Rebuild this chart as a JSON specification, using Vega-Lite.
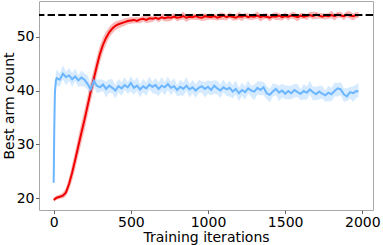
{
"$schema": "https://vega.github.io/schema/vega-lite/v6.json",
"width": 334, "height": 209,
"autosize": {"type": "none"},
"padding": {"left": 39, "top": 1, "right": 10, "bottom": 35},
"config": {
 "view": {"stroke": "#a8a8a8", "strokeWidth": 1},
 "font": "DejaVu Sans",
 "axis": {"grid": false, "domain": false, "tickColor": "#666666", "tickSize": 3.5, "tickWidth": 1, "labelFontSize": 14, "labelColor": "#000000", "labelPadding": 1.5, "titleFontSize": 14, "titleFontWeight": "normal", "titleColor": "#000000", "labelFlush": false}
},
"data": {"values": [
{"x":0,"s":"r","m":19.7,"lo":19.4,"hi":20.1},
{"x":20,"s":"r","m":20.1,"lo":19.7,"hi":20.5},
{"x":40,"s":"r","m":20.3,"lo":19.9,"hi":20.7},
{"x":60,"s":"r","m":20.5,"lo":20.0,"hi":21.1},
{"x":80,"s":"r","m":21.1,"lo":20.4,"hi":21.9},
{"x":100,"s":"r","m":22.7,"lo":21.6,"hi":23.9},
{"x":120,"s":"r","m":24.8,"lo":23.3,"hi":26.3},
{"x":140,"s":"r","m":27.2,"lo":25.5,"hi":28.9},
{"x":160,"s":"r","m":29.7,"lo":27.9,"hi":31.5},
{"x":180,"s":"r","m":32.2,"lo":30.3,"hi":34.1},
{"x":200,"s":"r","m":34.6,"lo":32.6,"hi":36.5},
{"x":220,"s":"r","m":37.2,"lo":35.3,"hi":39.1},
{"x":240,"s":"r","m":39.8,"lo":37.9,"hi":41.6},
{"x":260,"s":"r","m":42.2,"lo":40.4,"hi":44.0},
{"x":280,"s":"r","m":44.6,"lo":42.9,"hi":46.3},
{"x":300,"s":"r","m":46.8,"lo":45.2,"hi":48.4},
{"x":320,"s":"r","m":48.5,"lo":47.1,"hi":49.9},
{"x":340,"s":"r","m":49.8,"lo":48.6,"hi":51.0},
{"x":360,"s":"r","m":50.8,"lo":49.8,"hi":51.8},
{"x":380,"s":"r","m":51.5,"lo":50.6,"hi":52.4},
{"x":400,"s":"r","m":52.0,"lo":51.2,"hi":52.8},
{"x":420,"s":"r","m":52.3,"lo":51.5,"hi":53.0},
{"x":440,"s":"r","m":52.5,"lo":51.8,"hi":53.2},
{"x":460,"s":"r","m":52.7,"lo":52.0,"hi":53.4},
{"x":480,"s":"r","m":52.9,"lo":52.3,"hi":53.5},
{"x":500,"s":"r","m":53.0,"lo":52.4,"hi":53.6},
{"x":520,"s":"r","m":53.1,"lo":52.5,"hi":53.6},
{"x":540,"s":"r","m":52.9,"lo":52.5,"hi":53.6},
{"x":560,"s":"r","m":53.2,"lo":52.5,"hi":53.6},
{"x":580,"s":"r","m":53.3,"lo":52.8,"hi":53.9},
{"x":600,"s":"r","m":53.1,"lo":52.5,"hi":53.9},
{"x":620,"s":"r","m":53.4,"lo":52.6,"hi":53.9},
{"x":640,"s":"r","m":53.3,"lo":52.7,"hi":53.8},
{"x":660,"s":"r","m":53.5,"lo":53.1,"hi":54.2},
{"x":680,"s":"r","m":53.3,"lo":52.6,"hi":53.7},
{"x":700,"s":"r","m":53.6,"lo":53.1,"hi":54.2},
{"x":720,"s":"r","m":53.4,"lo":52.8,"hi":54.2},
{"x":740,"s":"r","m":53.6,"lo":52.8,"hi":54.1},
{"x":760,"s":"r","m":53.5,"lo":52.9,"hi":54.0},
{"x":780,"s":"r","m":53.7,"lo":53.3,"hi":54.4},
{"x":800,"s":"r","m":53.5,"lo":52.8,"hi":53.9},
{"x":820,"s":"r","m":53.6,"lo":53.1,"hi":54.2},
{"x":840,"s":"r","m":53.8,"lo":53.2,"hi":54.6},
{"x":860,"s":"r","m":53.5,"lo":52.7,"hi":54.0},
{"x":880,"s":"r","m":53.7,"lo":53.1,"hi":54.2},
{"x":900,"s":"r","m":53.6,"lo":53.2,"hi":54.3},
{"x":920,"s":"r","m":53.8,"lo":53.1,"hi":54.2},
{"x":940,"s":"r","m":53.6,"lo":53.1,"hi":54.2},
{"x":960,"s":"r","m":53.5,"lo":52.9,"hi":54.3},
{"x":980,"s":"r","m":53.8,"lo":53.0,"hi":54.3},
{"x":1000,"s":"r","m":53.7,"lo":53.1,"hi":54.2},
{"x":1020,"s":"r","m":53.6,"lo":53.2,"hi":54.3},
{"x":1040,"s":"r","m":53.8,"lo":53.1,"hi":54.2},
{"x":1060,"s":"r","m":53.5,"lo":53.0,"hi":54.1},
{"x":1080,"s":"r","m":53.7,"lo":53.1,"hi":54.5},
{"x":1100,"s":"r","m":53.9,"lo":53.1,"hi":54.4},
{"x":1120,"s":"r","m":53.6,"lo":53.0,"hi":54.1},
{"x":1140,"s":"r","m":53.8,"lo":53.4,"hi":54.5},
{"x":1160,"s":"r","m":53.7,"lo":53.0,"hi":54.1},
{"x":1180,"s":"r","m":53.5,"lo":53.0,"hi":54.1},
{"x":1200,"s":"r","m":53.8,"lo":53.2,"hi":54.6},
{"x":1220,"s":"r","m":53.7,"lo":52.9,"hi":54.2},
{"x":1240,"s":"r","m":53.9,"lo":53.3,"hi":54.4},
{"x":1260,"s":"r","m":53.6,"lo":53.2,"hi":54.3},
{"x":1280,"s":"r","m":53.8,"lo":53.1,"hi":54.2},
{"x":1300,"s":"r","m":53.7,"lo":53.2,"hi":54.3},
{"x":1320,"s":"r","m":53.9,"lo":53.3,"hi":54.7},
{"x":1340,"s":"r","m":53.6,"lo":52.8,"hi":54.1},
{"x":1360,"s":"r","m":53.8,"lo":53.2,"hi":54.3},
{"x":1380,"s":"r","m":53.7,"lo":53.3,"hi":54.4},
{"x":1400,"s":"r","m":53.5,"lo":52.8,"hi":53.9},
{"x":1420,"s":"r","m":53.8,"lo":53.3,"hi":54.4},
{"x":1440,"s":"r","m":53.7,"lo":53.1,"hi":54.5},
{"x":1460,"s":"r","m":53.9,"lo":53.1,"hi":54.4},
{"x":1480,"s":"r","m":53.6,"lo":53.0,"hi":54.1},
{"x":1500,"s":"r","m":53.8,"lo":53.4,"hi":54.5},
{"x":1520,"s":"r","m":53.7,"lo":53.0,"hi":54.1},
{"x":1540,"s":"r","m":53.9,"lo":53.4,"hi":54.5},
{"x":1560,"s":"r","m":53.8,"lo":53.2,"hi":54.6},
{"x":1580,"s":"r","m":53.6,"lo":52.8,"hi":54.1},
{"x":1600,"s":"r","m":53.9,"lo":53.3,"hi":54.4},
{"x":1620,"s":"r","m":53.7,"lo":53.3,"hi":54.4},
{"x":1640,"s":"r","m":53.8,"lo":53.1,"hi":54.2},
{"x":1660,"s":"r","m":54.0,"lo":53.5,"hi":54.6},
{"x":1680,"s":"r","m":53.8,"lo":53.2,"hi":54.6},
{"x":1700,"s":"r","m":54.1,"lo":53.3,"hi":54.6},
{"x":1720,"s":"r","m":53.9,"lo":53.3,"hi":54.4},
{"x":1740,"s":"r","m":53.7,"lo":53.3,"hi":54.4},
{"x":1760,"s":"r","m":53.9,"lo":53.2,"hi":54.3},
{"x":1780,"s":"r","m":53.8,"lo":53.3,"hi":54.4},
{"x":1800,"s":"r","m":54.0,"lo":53.4,"hi":54.8},
{"x":1820,"s":"r","m":53.8,"lo":53.0,"hi":54.3},
{"x":1840,"s":"r","m":54.1,"lo":53.5,"hi":54.6},
{"x":1860,"s":"r","m":53.9,"lo":53.5,"hi":54.6},
{"x":1880,"s":"r","m":53.8,"lo":53.1,"hi":54.2},
{"x":1900,"s":"r","m":54.1,"lo":53.6,"hi":54.7},
{"x":1920,"s":"r","m":53.9,"lo":53.3,"hi":54.7},
{"x":1940,"s":"r","m":53.8,"lo":53.0,"hi":54.3},
{"x":1960,"s":"r","m":54.0,"lo":53.4,"hi":54.5},
{"x":1975,"s":"r","m":53.9,"lo":53.5,"hi":54.6},
{"x":0,"s":"b","m":22.9,"lo":22.7,"hi":23.1},
{"x":4,"s":"b","m":33.0,"lo":32.0,"hi":34.0},
{"x":8,"s":"b","m":39.5,"lo":38.5,"hi":40.8},
{"x":14,"s":"b","m":41.8,"lo":40.6,"hi":43.2},
{"x":20,"s":"b","m":42.3,"lo":41.0,"hi":43.9},
{"x":40,"s":"b","m":42.0,"lo":40.7,"hi":43.2},
{"x":60,"s":"b","m":43.1,"lo":42.1,"hi":44.7},
{"x":80,"s":"b","m":42.5,"lo":41.0,"hi":43.5},
{"x":100,"s":"b","m":42.8,"lo":41.7,"hi":44.2},
{"x":120,"s":"b","m":42.1,"lo":40.7,"hi":43.2},
{"x":140,"s":"b","m":42.6,"lo":41.7,"hi":44.1},
{"x":160,"s":"b","m":41.9,"lo":40.7,"hi":42.8},
{"x":180,"s":"b","m":42.4,"lo":40.8,"hi":43.7},
{"x":200,"s":"b","m":42.0,"lo":40.7,"hi":43.2},
{"x":220,"s":"b","m":41.2,"lo":40.2,"hi":42.8},
{"x":240,"s":"b","m":40.2,"lo":38.7,"hi":41.2},
{"x":260,"s":"b","m":41.8,"lo":40.7,"hi":43.2},
{"x":280,"s":"b","m":40.9,"lo":39.5,"hi":42.0},
{"x":300,"s":"b","m":40.6,"lo":39.7,"hi":42.1},
{"x":320,"s":"b","m":41.1,"lo":39.9,"hi":42.0},
{"x":340,"s":"b","m":40.3,"lo":38.7,"hi":41.6},
{"x":360,"s":"b","m":40.9,"lo":39.6,"hi":42.1},
{"x":380,"s":"b","m":40.5,"lo":39.5,"hi":42.1},
{"x":400,"s":"b","m":40.0,"lo":38.5,"hi":41.0},
{"x":420,"s":"b","m":40.8,"lo":39.7,"hi":42.2},
{"x":440,"s":"b","m":40.4,"lo":39.0,"hi":41.5},
{"x":460,"s":"b","m":41.0,"lo":40.1,"hi":42.5},
{"x":480,"s":"b","m":40.6,"lo":39.4,"hi":41.5},
{"x":500,"s":"b","m":41.4,"lo":39.8,"hi":42.7},
{"x":520,"s":"b","m":40.5,"lo":39.2,"hi":41.7},
{"x":540,"s":"b","m":40.9,"lo":39.9,"hi":42.5},
{"x":560,"s":"b","m":40.2,"lo":38.7,"hi":41.2},
{"x":580,"s":"b","m":40.8,"lo":39.7,"hi":42.2},
{"x":600,"s":"b","m":40.4,"lo":39.0,"hi":41.5},
{"x":620,"s":"b","m":41.1,"lo":40.2,"hi":42.6},
{"x":640,"s":"b","m":40.7,"lo":39.5,"hi":41.6},
{"x":660,"s":"b","m":41.0,"lo":39.4,"hi":42.3},
{"x":680,"s":"b","m":40.3,"lo":39.0,"hi":41.5},
{"x":700,"s":"b","m":40.9,"lo":39.9,"hi":42.5},
{"x":720,"s":"b","m":40.6,"lo":39.1,"hi":41.6},
{"x":740,"s":"b","m":41.2,"lo":40.1,"hi":42.6},
{"x":760,"s":"b","m":40.5,"lo":39.1,"hi":41.6},
{"x":780,"s":"b","m":40.8,"lo":39.9,"hi":42.3},
{"x":800,"s":"b","m":40.1,"lo":38.9,"hi":41.0},
{"x":820,"s":"b","m":40.7,"lo":39.1,"hi":42.0},
{"x":840,"s":"b","m":40.3,"lo":39.0,"hi":41.5},
{"x":860,"s":"b","m":40.9,"lo":39.9,"hi":42.5},
{"x":880,"s":"b","m":40.2,"lo":38.7,"hi":41.2},
{"x":900,"s":"b","m":40.6,"lo":39.5,"hi":42.0},
{"x":920,"s":"b","m":40.0,"lo":38.6,"hi":41.1},
{"x":940,"s":"b","m":40.5,"lo":39.6,"hi":42.0},
{"x":960,"s":"b","m":40.8,"lo":39.6,"hi":41.7},
{"x":980,"s":"b","m":40.3,"lo":38.7,"hi":41.6},
{"x":1000,"s":"b","m":40.7,"lo":39.4,"hi":41.9},
{"x":1020,"s":"b","m":40.1,"lo":39.1,"hi":41.7},
{"x":1040,"s":"b","m":40.9,"lo":39.4,"hi":41.9},
{"x":1060,"s":"b","m":40.4,"lo":39.3,"hi":41.8},
{"x":1080,"s":"b","m":40.0,"lo":38.6,"hi":41.1},
{"x":1100,"s":"b","m":40.6,"lo":39.7,"hi":42.1},
{"x":1120,"s":"b","m":40.2,"lo":39.0,"hi":41.1},
{"x":1140,"s":"b","m":40.5,"lo":38.9,"hi":41.8},
{"x":1160,"s":"b","m":39.8,"lo":38.5,"hi":41.0},
{"x":1180,"s":"b","m":40.3,"lo":39.3,"hi":41.9},
{"x":1200,"s":"b","m":39.5,"lo":38.0,"hi":40.5},
{"x":1220,"s":"b","m":40.1,"lo":39.0,"hi":41.5},
{"x":1240,"s":"b","m":39.7,"lo":38.3,"hi":40.8},
{"x":1260,"s":"b","m":40.4,"lo":39.5,"hi":41.9},
{"x":1280,"s":"b","m":40.0,"lo":38.8,"hi":40.9},
{"x":1300,"s":"b","m":39.8,"lo":38.2,"hi":41.1},
{"x":1320,"s":"b","m":40.5,"lo":39.2,"hi":41.7},
{"x":1340,"s":"b","m":40.1,"lo":39.1,"hi":41.7},
{"x":1360,"s":"b","m":40.6,"lo":39.1,"hi":41.6},
{"x":1380,"s":"b","m":39.5,"lo":38.4,"hi":40.9},
{"x":1400,"s":"b","m":39.2,"lo":37.8,"hi":40.3},
{"x":1420,"s":"b","m":39.8,"lo":38.9,"hi":41.3},
{"x":1440,"s":"b","m":40.3,"lo":39.1,"hi":41.2},
{"x":1460,"s":"b","m":39.6,"lo":38.0,"hi":40.9},
{"x":1480,"s":"b","m":40.0,"lo":38.7,"hi":41.2},
{"x":1500,"s":"b","m":39.4,"lo":38.4,"hi":41.0},
{"x":1520,"s":"b","m":39.9,"lo":38.4,"hi":40.9},
{"x":1540,"s":"b","m":39.5,"lo":38.4,"hi":40.9},
{"x":1560,"s":"b","m":40.1,"lo":38.7,"hi":41.2},
{"x":1580,"s":"b","m":39.7,"lo":38.8,"hi":41.2},
{"x":1600,"s":"b","m":39.4,"lo":38.2,"hi":40.3},
{"x":1620,"s":"b","m":39.9,"lo":38.3,"hi":41.2},
{"x":1640,"s":"b","m":39.6,"lo":38.3,"hi":40.8},
{"x":1660,"s":"b","m":40.2,"lo":39.2,"hi":41.8},
{"x":1680,"s":"b","m":39.7,"lo":38.2,"hi":40.7},
{"x":1700,"s":"b","m":39.3,"lo":38.2,"hi":40.7},
{"x":1720,"s":"b","m":39.8,"lo":38.4,"hi":40.9},
{"x":1740,"s":"b","m":39.4,"lo":38.5,"hi":40.9},
{"x":1760,"s":"b","m":39.1,"lo":37.9,"hi":40.0},
{"x":1780,"s":"b","m":39.6,"lo":38.0,"hi":40.9},
{"x":1800,"s":"b","m":39.3,"lo":38.0,"hi":40.5},
{"x":1820,"s":"b","m":39.9,"lo":38.9,"hi":41.5},
{"x":1840,"s":"b","m":40.4,"lo":38.9,"hi":41.4},
{"x":1860,"s":"b","m":40.2,"lo":39.1,"hi":41.6},
{"x":1880,"s":"b","m":39.3,"lo":37.9,"hi":40.4},
{"x":1900,"s":"b","m":38.9,"lo":38.0,"hi":40.4},
{"x":1920,"s":"b","m":39.7,"lo":38.5,"hi":40.6},
{"x":1940,"s":"b","m":39.5,"lo":37.9,"hi":40.8},
{"x":1960,"s":"b","m":39.9,"lo":38.6,"hi":41.1},
{"x":1975,"s":"b","m":39.8,"lo":38.8,"hi":41.4}
]},
"encoding": {
 "x": {"field": "x", "type": "quantitative", "scale": {"domain": [-95, 2069], "nice": false, "zero": false}, "axis": {"title": "Training iterations", "values": [0, 500, 1000, 1500, 2000], "format": "d", "titleY": 20, "titleBaseline": "top"}},
 "color": {"field": "s", "type": "nominal", "scale": {"domain": ["r", "b"], "range": ["#f00000", "#6cb6ff"]}, "legend": null}
},
"layer": [
 {"mark": {"type": "area", "opacity": 0.28}, "encoding": {
   "y": {"field": "lo", "type": "quantitative", "scale": {"domain": [17.83, 56.61], "nice": false, "zero": false}, "axis": {"title": "Best arm count", "values": [20, 30, 40, 50], "titleX": -26, "titleBaseline": "alphabetic"}},
   "y2": {"field": "hi"}}},
 {"mark": {"type": "line", "strokeWidth": 2}, "encoding": {
   "y": {"field": "m", "type": "quantitative"}}},
 {"data": {"values": [{"v": 54}]}, "mark": {"type": "rule", "strokeDash": [7.4, 3.2], "strokeWidth": 2, "color": "#000000"}, "encoding": {
   "y": {"field": "v", "type": "quantitative"}, "x": null, "color": null}}
]
}
